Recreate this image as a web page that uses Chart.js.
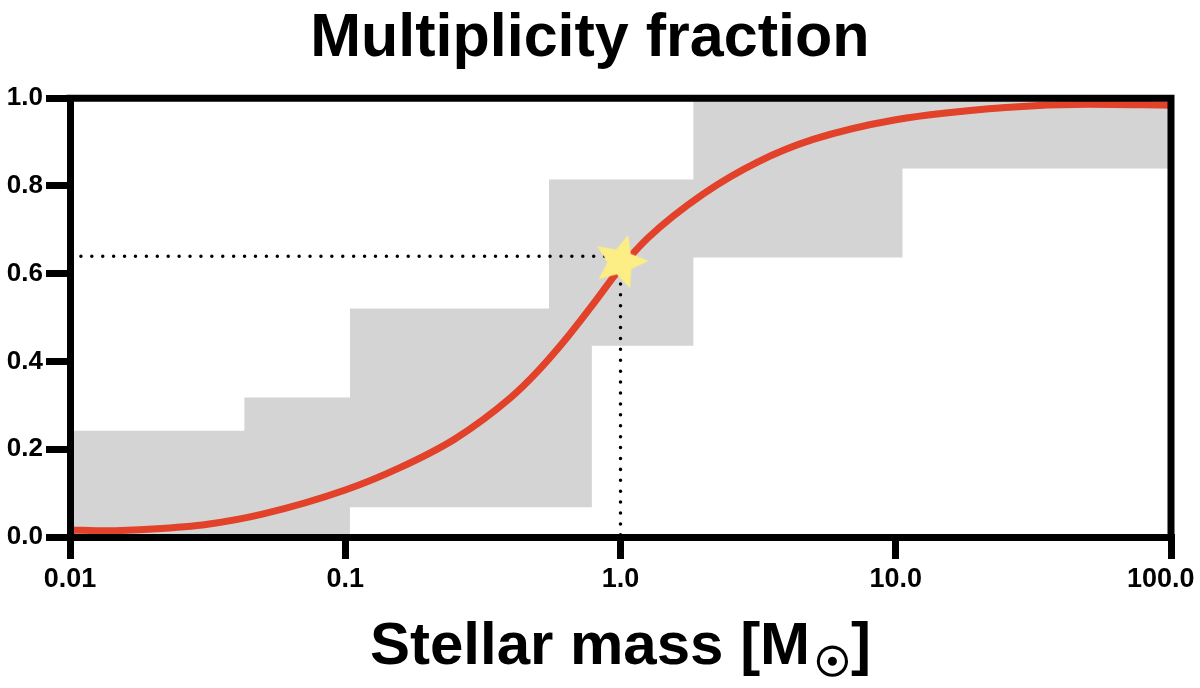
<!DOCTYPE html>
<html>
<head>
<meta charset="utf-8">
<script src="https://cdn.jsdelivr.net/npm/chart.js"></script>
<style>
  html, body { margin: 0; padding: 0; background: #fff; }
  canvas { display: block; }
</style>
</head>
<body>
<canvas id="multChart" width="1200" height="688"></canvas>
<script>
// tick labels
const xTickValues = [0.01, 0.1, 1, 10, 100];
const xTickLabels = ["0.01", "0.1", "1.0", "10.0", "100.0"];
const yTickLabels = ["0.0", "0.2", "0.4", "0.6", "0.8", "1.0"];

// grey range: bin edges and the level of each step
const upperEdges = [0.01, 0.043, 0.104, 0.55, 1.84, 100];
const upperFrac  = [0.242, 0.318, 0.521, 0.815, 1.0];
const lowerEdges = [0.01, 0.104, 0.787, 1.84, 10.58, 100];
const lowerFrac  = [0, 0.068, 0.436, 0.637, 0.84];

// red curve
const curveMass = [0.01, 0.0135, 0.02, 0.0316, 0.05, 0.1, 0.158, 0.251, 0.398, 0.501, 0.631, 0.794, 1.0, 1.26, 2.0, 3.16, 5.01, 10, 25.1, 50.1, 100];
const curveFrac = [0.016, 0.014, 0.018, 0.029, 0.052, 0.107, 0.158, 0.224, 0.317, 0.378, 0.450, 0.530, 0.613, 0.682, 0.782, 0.855, 0.906, 0.951, 0.979, 0.986, 0.984];

// the Sun
const sunMass = [1.0];
const sunFrac = [0.627];
const guideMass = [0.01, 1.0, 1.0];
const guideFrac = [0.64, 0.64, 0];

const FONT = "'Liberation Sans', Arial, Helvetica, sans-serif";
Chart.defaults.font.family = FONT;
Chart.defaults.color = "#000";

const toXY = (xs, ys) => xs.map((v, i) => ({ x: v, y: ys[i] }));

// each level runs from one edge to the next
function steps(edges, levels) {
  const pts = [];
  levels.forEach((lv, i) => {
    pts.push({ x: edges[i], y: lv }, { x: edges[i + 1], y: lv });
  });
  return pts;
}

function makeStar() {
  const c = document.createElement("canvas");
  c.width = 64; c.height = 64;
  const g = c.getContext("2d");
  const outer = 28, inner = 13;
  g.beginPath();
  for (let i = 0; i < 10; i++) {
    const r = i % 2 === 0 ? outer : inner;
    const a = -Math.PI / 2 + i * Math.PI / 5;
    const px = 32 + r * Math.cos(a), py = 32 + r * Math.sin(a);
    if (i === 0) g.moveTo(px, py); else g.lineTo(px, py);
  }
  g.closePath();
  g.fillStyle = "#fcee84";
  g.fill();
  return c;
}

const frame = {
  id: "frame",
  afterDraw(chart) {
    const { ctx, chartArea: a } = chart;
    ctx.save();
    ctx.strokeStyle = "#000";
    ctx.lineWidth = 7;
    ctx.lineJoin = "miter";
    ctx.beginPath();
    ctx.moveTo(a.left - 3.5, a.top);
    ctx.lineTo(a.right, a.top);
    ctx.lineTo(a.right, a.bottom + 3.5);
    ctx.stroke();

    // x axis title with a subscript sun symbol
    const main = "Stellar mass [M", sun = "\u2609", close = "]";
    ctx.font = "bold 60px " + FONT;
    const wMain = ctx.measureText(main).width;
    const wClose = ctx.measureText(close).width;
    ctx.font = "100px 'DejaVu Sans'";
    const m = ctx.measureText(sun);
    const bw = m.actualBoundingBoxLeft + m.actualBoundingBoxRight;
    const k = 30 / bw;
    const total = wMain + 7 + 31 + 3 + wClose;
    const base = 664;
    const x0 = (a.left + a.right) / 2 - total / 2;
    ctx.fillStyle = "#000";
    ctx.textBaseline = "alphabetic";
    ctx.textAlign = "left";
    ctx.font = "bold 60px " + FONT;
    ctx.fillText(main, x0, base);
    const sunLeft = x0 + wMain + 7.5;
    ctx.font = (100 * k).toFixed(2) + "px 'DejaVu Sans'";
    const sx = sunLeft + m.actualBoundingBoxLeft * k;
    const sy = base + 11.5 - m.actualBoundingBoxDescent * k;
    ctx.fillText(sun, sx, sy);
    ctx.lineWidth = 1.6;
    ctx.strokeText(sun, sx, sy);
    ctx.font = "bold 60px " + FONT;
    ctx.fillText(close, x0 + wMain + 7 + 31 + 3, base);
    ctx.restore();
  }
};

new Chart(document.getElementById("multChart"), {
  type: "line",
  data: {
    datasets: [
      {
        data: toXY(sunMass, sunFrac),
        showLine: false,
        pointStyle: makeStar(),
        pointRadius: 28,
        pointRotation: 16,
        order: 1
      },
      {
        data: toXY(guideMass, guideFrac),
        borderColor: "#000",
        borderWidth: 3.5,
        borderDash: [0.01, 10.9],
        borderCapStyle: "round",
        pointRadius: 0,
        fill: false,
        order: 2
      },
      {
        data: toXY(curveMass, curveFrac),
        borderColor: "#e2412a",
        borderWidth: 7,
        cubicInterpolationMode: "monotone",
        pointRadius: 0,
        fill: false,
        order: 3
      },
      {
        data: steps(upperEdges, upperFrac),
        borderColor: "rgba(0,0,0,0)",
        borderWidth: 0,
        pointRadius: 0,
        fill: false,
        order: 5
      },
      {
        data: steps(lowerEdges, lowerFrac),
        borderColor: "rgba(0,0,0,0)",
        borderWidth: 0,
        pointRadius: 0,
        fill: "-1",
        backgroundColor: "#d4d4d4",
        order: 5
      }
    ]
  },
  options: {
    responsive: false,
    animation: false,
    events: [],
    layout: { padding: 0 },
    plugins: {
      legend: { display: false },
      tooltip: { enabled: false },
      title: {
        display: true,
        text: "Multiplicity fraction\u2004",
        color: "#000",
        font: { size: 61, weight: "bold" },
        padding: { top: 3, bottom: 22 }
      }
    },
    scales: {
      x: {
        type: "logarithmic",
        min: 0.01,
        max: 100,
        afterBuildTicks: s => { s.ticks = xTickValues.map(v => ({ value: v })); },
        afterFit: s => { s.height = 151; s.paddingRight = 27; },
        ticks: {
          autoSkip: false,
          maxRotation: 0,
          padding: 4,
          font: { size: 27, weight: "bold" },
          callback: (v, i) => xTickLabels[i] + (i === xTickLabels.length - 1 ? "\u2007\u2009" : "")
        },
        grid: { drawOnChartArea: false, tickLength: 22, tickWidth: 7, tickColor: "#000", color: "#000", lineWidth: 7 },
        border: { display: true, width: 7, color: "#000", z: 1 }
      },
      y: {
        min: 0,
        max: 1,
        afterFit: s => { s.width = 70; },
        ticks: {
          stepSize: 0.2,
          padding: 3,
          font: { size: 26, weight: "bold" },
          callback: (v, i) => yTickLabels[i]
        },
        grid: { drawOnChartArea: false, tickLength: 24, tickWidth: 7, tickColor: "#000", color: "#000", lineWidth: 7 },
        border: { display: true, width: 7, color: "#000", z: 1 }
      }
    }
  },
  plugins: [frame]
});
</script>
</body>
</html>
